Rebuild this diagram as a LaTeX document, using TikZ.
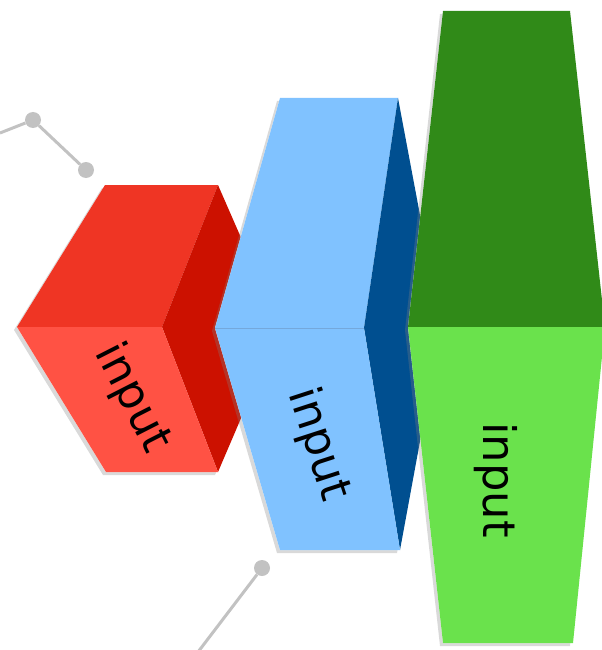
\documentclass[tikz,border=0pt]{standalone}
\usepackage{fontspec}
\setmainfont{DejaVu Sans}
\usepackage{tikz}
\usetikzlibrary{shadows}
\definecolor{dotgray}{HTML}{C2C2C2}
\definecolor{redtop}{HTML}{EF3524}
\definecolor{redfront}{HTML}{FF5244}
\definecolor{redside}{HTML}{CC1100}
\definecolor{bluefront}{HTML}{80C2FF}
\definecolor{blueside}{HTML}{004F90}
\definecolor{blueedge}{HTML}{74A8DC}
\definecolor{greentop}{HTML}{308A18}
\definecolor{greenfront}{HTML}{6AE24C}

\tikzset{
  boxshadow/.style={fill=white, drop shadow={shadow xshift=-3bp, shadow yshift=-3bp, opacity=0.3}},
  dot/.style={circle, fill=dotgray, inner sep=0pt, minimum size=16bp},
  link/.style={draw=dotgray, line width=3bp},
  boxtext/.style={font=\fontsize{45}{54}\selectfont, inner sep=0pt}
}

\begin{document}
\begin{tikzpicture}[x=1bp, y=-1bp]
 \useasboundingbox (0,0) rectangle (602,650);

 % links in the back
 \foreach \n/\p in {d1/{(33,120)}, d2/{(86,170)}, d3/{(262,568)}}
        \node[dot] (\n) at \p {};
 \coordinate (e1) at (0,133);
 \coordinate (e2) at (198,652);
 \draw[link] (e1) -- (d1) -- (d2);
 \draw[link] (d3) -- (e2);

 % red block
 \path[boxshadow] (105,185) -- (218,185) -- (280,327) -- (218,472) -- (106,472) -- (17,327) -- cycle;
 \fill[redtop] (17,327) -- (105,185) -- (218,185) -- (162,327) -- cycle;
 \fill[redside] (162,327) -- (218,185) -- (280,327) -- (218,472) -- cycle;
 \fill[redfront] (17,327) -- (162,327) -- (218,472) -- (106,472) -- cycle;
 \node[boxtext, rotate=-63] (redtext) at (132,398) {input};

 % blue block
 \path[boxshadow] (280,98) -- (398,98) -- (441,327) -- (400,550) -- (280,550) -- (215,328) -- cycle;
 \fill[bluefront] (215,328) -- (280,98) -- (398,98) -- (364,328) -- cycle;
 \fill[blueside] (364,328) -- (398,98) -- (441,327) -- (400,550) -- cycle;
 \fill[bluefront] (215,328) -- (364,328) -- (400,550) -- (280,550) -- cycle;
 \draw[blueedge, thin] (215,328) -- (364,328);
 \node[boxtext, rotate=-72] (bluetext) at (318,445) {input};

 % green block
 \path[boxshadow] (443,11) -- (570,11) -- (605,327) -- (573,643) -- (443,643) -- (408,327) -- cycle;
 \fill[greentop] (408,327) -- (443,11) -- (570,11) -- (605,327) -- cycle;
 \fill[greenfront] (408,327) -- (605,327) -- (573,643) -- (443,643) -- cycle;
 \node[boxtext, rotate=-90] (greentext) at (496,480) {input};

\end{tikzpicture}
\end{document}
